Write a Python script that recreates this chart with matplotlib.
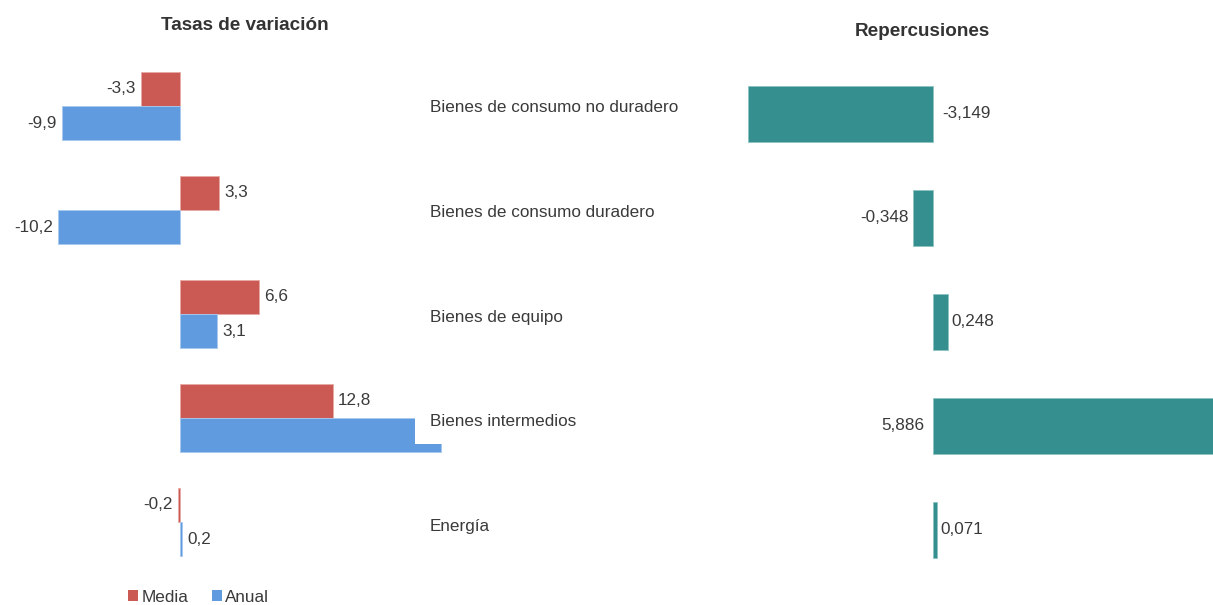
import matplotlib
matplotlib.use("Agg")
import matplotlib.pyplot as plt
from matplotlib.patches import Patch, Rectangle
import numpy as np

plt.rcParams["font.family"] = ["Liberation Sans", "DejaVu Sans"]

categories = [
    "Bienes de consumo no duradero",
    "Bienes de consumo duradero",
    "Bienes de equipo",
    "Bienes intermedios",
    "Energía",
]
media = [-3.3, 3.3, 6.6, 12.8, -0.2]
anual = [-9.9, -10.2, 3.1, 21.8, 0.2]
repercusiones = [-3.149, -0.348, 0.248, 5.886, 0.071]

RED = "#CB5A55"
BLUE = "#619BDF"
TEAL = "#358F8F"
TXT = "#3A3A3A"
FS = 12.3

W, H = 1213, 605
fig = plt.figure(figsize=(W / 100, H / 100), dpi=100)


def fmt(v, nd):
    return f"{v:.{nd}f}".replace(".", ",")


def px_axes(x0, x1, y0, y1):
    # figure-pixel box (top-left origin) -> axes
    return fig.add_axes([x0 / W, 1 - y1 / H, (x1 - x0) / W, (y1 - y0) / H])


LABEL_COL_X = 430   # left edge of the category label column, px
BOX_MARGIN = 15     # white margin around category labels, px

# ---- left panel: growth rates ----
scale_l = 11.95  # px per unit
ZERO_L = 180
ax1 = px_axes(0, 490, 54, 574)
ax1.set_xlim(-ZERO_L / scale_l, (490 - ZERO_L) / scale_l)
ax1.set_ylim(4.5, -0.5)
ax1.axis("off")

y = np.arange(len(categories))
bh = 0.327
ax1.barh(y - bh / 2, media, height=bh, color=RED, edgecolor="#E8A9A6", linewidth=0.6, zorder=2)
ax1.barh(y + bh / 2, anual, height=bh, color=BLUE, edgecolor="#A9C8EE", linewidth=0.6, zorder=2)

off_l = 5 / scale_l
col_limit = (LABEL_COL_X - BOX_MARGIN - ZERO_L) / scale_l
for i, (m, a) in enumerate(zip(media, anual)):
    for v, yy in ((m, i - bh / 2), (a, i + bh / 2)):
        if v + off_l > col_limit:
            continue  # value label would sit under the category column
        ha = "left" if v >= 0 else "right"
        ax1.text(v + (off_l if v >= 0 else -off_l), yy, fmt(v, 1), ha=ha, va="center",
                 fontsize=FS, color=TXT, zorder=1)

fig.text(245 / W, 1 - 26 / H, "Tasas de variación", ha="center", va="center",
         fontsize=13.6, fontweight="bold", color="#333333")

# category labels, each on a white box that masks the bars behind it
renderer = fig.canvas.get_renderer()
for i, cat in enumerate(categories):
    ycat = 107 + 105 * i
    t = fig.text(LABEL_COL_X / W, 1 - ycat / H, cat, ha="left", va="center",
                 fontsize=FS, color=TXT, zorder=10)
    ext = t.get_window_extent(renderer)
    x0 = LABEL_COL_X - BOX_MARGIN
    x1 = ext.x1 + BOX_MARGIN
    top, bot = ycat - 22, ycat + 22
    fig.patches.append(Rectangle((x0 / W, 1 - bot / H), (x1 - x0) / W, (bot - top) / H,
                                 transform=fig.transFigure, facecolor="white",
                                 edgecolor="none", zorder=5))

# ---- right panel: contributions ----
scale_r = 58.7
ax2 = px_axes(631, 1213, 62, 582)
ax2.set_xlim(-(933 - 631) / scale_r, (1213 - 933) / scale_r)
ax2.set_ylim(4.5, -0.5)
ax2.axis("off")
ax2.barh(y, repercusiones, height=0.53, color=TEAL, edgecolor="#8CC3C3", linewidth=0.6)

off_r = 9 / scale_r
for i, v in enumerate(repercusiones):
    if abs(v) > 2:
        # long bars: label sits on the other side of the zero line
        xt = -off_r if v > 0 else off_r
        ha = "right" if v > 0 else "left"
    else:
        xt = v + (off_r * 0.4 if v >= 0 else -off_r * 0.4)
        ha = "left" if v >= 0 else "right"
    ax2.text(xt, i, fmt(v, 3), ha=ha, va="center", fontsize=FS, color=TXT)

fig.text(922 / W, 1 - 31 / H, "Repercusiones", ha="center", va="center",
         fontsize=13.6, fontweight="bold", color="#333333")

# legend
handles = [Patch(facecolor=RED, edgecolor="none"), Patch(facecolor=BLUE, edgecolor="none")]
fig.legend(handles, ["Media", "Anual"], loc="center left",
           bbox_to_anchor=(128 / W, 1 - 597 / H), ncol=2, frameon=False,
           handlelength=0.6, handleheight=0.6, handletextpad=0.2,
           columnspacing=1.35, borderaxespad=0, borderpad=0,
           prop=dict(size=FS), labelcolor=TXT)

fig.savefig("out.png", dpi=100, facecolor="white")
